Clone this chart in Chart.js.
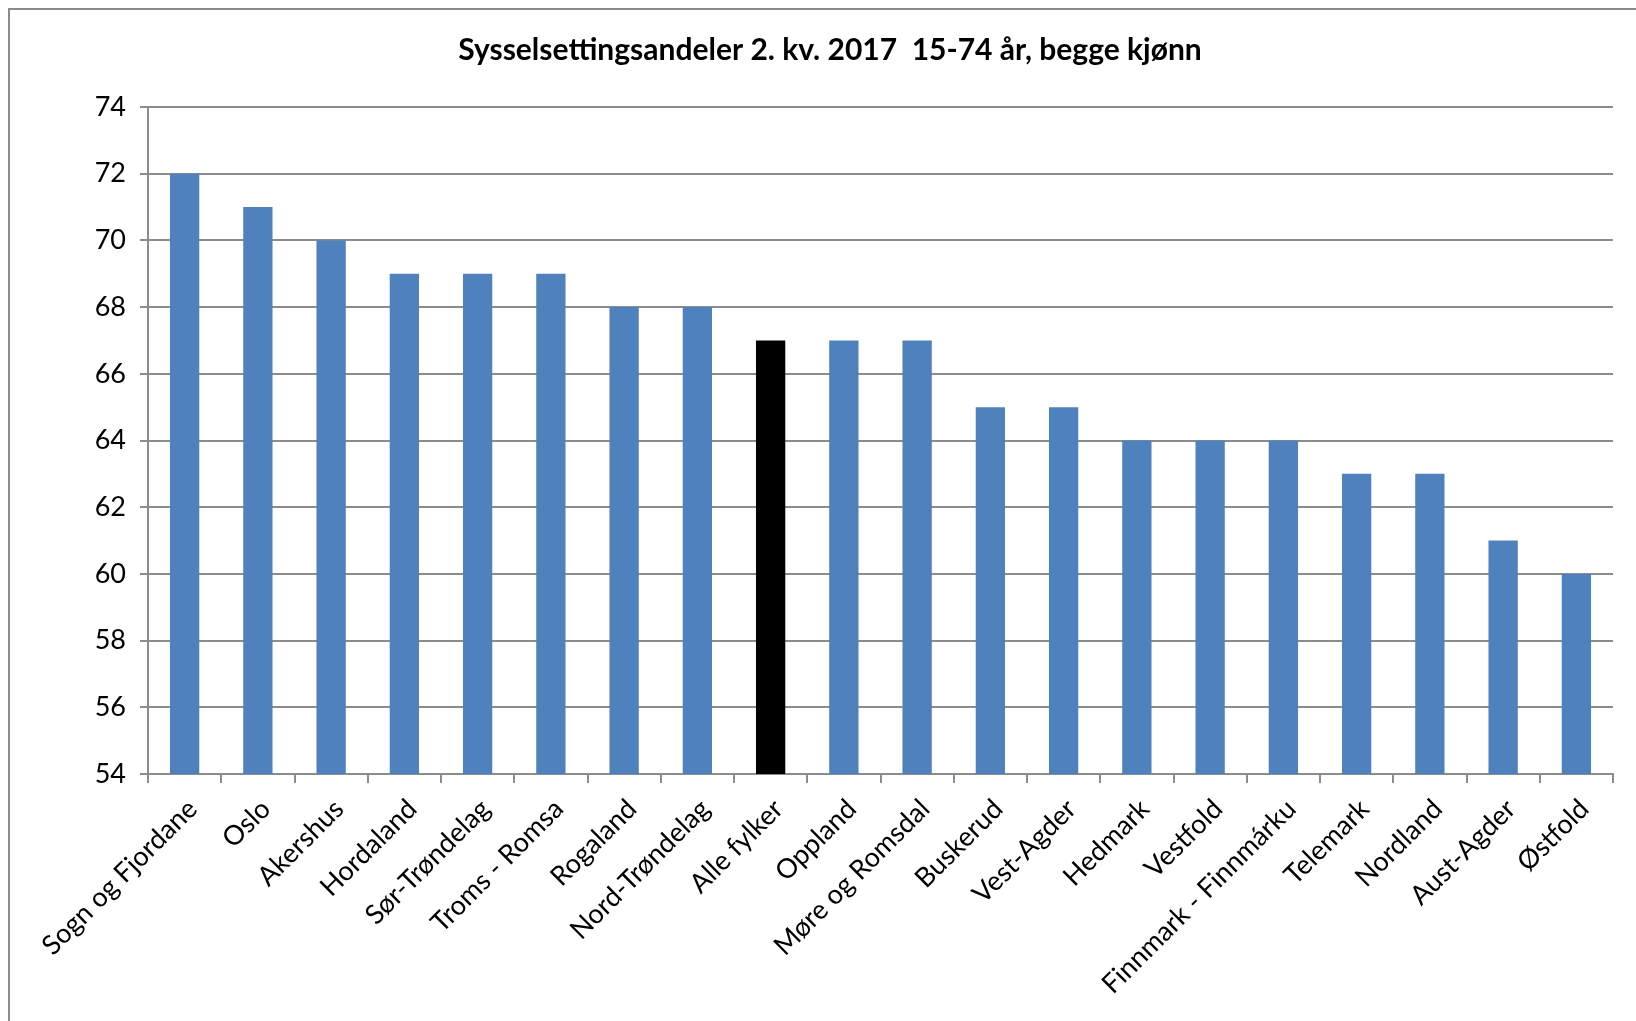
<!DOCTYPE html>
<html>
<head>
<meta charset="utf-8">
<script src="https://cdn.jsdelivr.net/npm/chart.js@4/dist/chart.umd.min.js"></script>
<style>
  html, body { margin: 0; padding: 0; background: #fff; }
  #wrap { width: 1636px; height: 1021px; position: relative; }
</style>
</head>
<body>
<div id="wrap"><canvas id="chart" width="1636" height="1021"></canvas></div>
<script>
const categories = ['Sogn og Fjordane', 'Oslo', 'Akershus', 'Hordaland', 'Sør-Trøndelag', 'Troms - Romsa',
    'Rogaland', 'Nord-Trøndelag', 'Alle fylker', 'Oppland', 'Møre og Romsdal', 'Buskerud', 'Vest-Agder',
    'Hedmark', 'Vestfold', 'Finnmark - Finnmárku', 'Telemark', 'Nordland', 'Aust-Agder', 'Østfold'];
const values = [72, 71, 70, 69, 69, 69, 68, 68, 67, 67, 67, 65, 65, 64, 64, 64, 63, 63, 61, 60];
const highlight = 'Alle fylker';
const titleText = 'Sysselsettingsandeler 2. kv. 2017  15-74 år, begge kjønn';
const yMin = 54;
const yMax = 74;
const yStep = 2;

const barColors = categories.map(c => c === highlight ? '#000000' : '#4F81BD');

// Outer frame like the spreadsheet chart border, plus the title
const framePlugin = {
    id: 'frame',
    beforeDraw(chart) {
        const ctx = chart.ctx;
        ctx.save();
        ctx.fillStyle = '#fff';
        ctx.fillRect(0, 0, chart.width, chart.height);
        ctx.strokeStyle = '#8c8c8c';
        ctx.lineWidth = 2;
        ctx.strokeRect(9, 9, chart.width + 20, chart.height + 20);
        ctx.restore();
    },
    afterDraw(chart) {
        const ctx = chart.ctx;
        ctx.save();
        ctx.font = 'bold 30px Lato';
        ctx.fillStyle = '#000';
        ctx.textAlign = 'center';
        ctx.textBaseline = 'middle';
        ctx.fillText(titleText, 830, 50);
        ctx.restore();
    }
};

new Chart(document.getElementById('chart').getContext('2d'), {
    type: 'bar',
    data: {
        labels: categories,
        datasets: [{
            data: values,
            backgroundColor: barColors,
            borderWidth: 0,
            barPercentage: 0.8,
            categoryPercentage: 0.5
        }]
    },
    options: {
        responsive: false,
        animation: false,
        layout: { padding: { left: 0, right: 23, top: 107, bottom: 0 } },
        plugins: {
            legend: { display: false },
            tooltip: { enabled: false },
            title: { display: false }
        },
        scales: {
            x: {
                offset: true,
                grid: {
                    offset: true,
                    drawOnChartArea: false,
                    drawTicks: true,
                    tickLength: 9,
                    color: '#8c8c8c',
                    lineWidth: 2
                },
                border: { color: '#8c8c8c', width: 2 },
                ticks: {
                    color: '#000',
                    font: { family: 'Lato', size: 27 },
                    minRotation: 45,
                    maxRotation: 45,
                    autoSkip: false,
                    padding: 10,
                    labelOffset: 8
                },
                afterFit(scale) { scale.height = 247; }
            },
            y: {
                min: yMin,
                max: yMax,
                grid: {
                    color: '#8c8c8c',
                    lineWidth: 2,
                    tickLength: 8
                },
                border: { color: '#8c8c8c', width: 2 },
                ticks: {
                    stepSize: yStep,
                    color: '#000',
                    font: { family: 'Lato', size: 27 },
                    padding: 14
                },
                afterFit(scale) { scale.width = 148; }
            }
        }
    },
    plugins: [framePlugin]
});
</script>
</body>
</html>
